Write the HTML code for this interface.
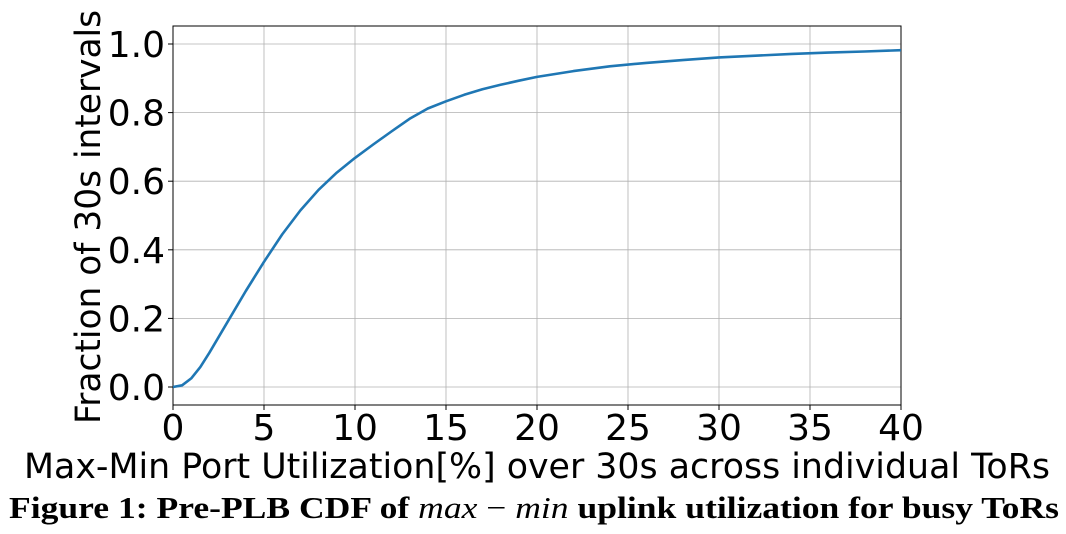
<!DOCTYPE html>
<html><head><meta charset="utf-8"><style>
body{margin:0;background:#fff;width:1066px;height:534px;overflow:hidden}
svg{display:block}
</style></head><body>
<svg id="chart" width="1066" height="534" xmlns="http://www.w3.org/2000/svg">
<g id="grid"></g>
<g id="axes"></g>
<g id="series"></g>
<text x="537" y="478" text-anchor="middle" font-family="'DejaVu Sans',sans-serif" font-size="34.5" textLength="1026" lengthAdjust="spacingAndGlyphs">Max-Min Port Utilization[%] over 30s across individual ToRs</text>
<text transform="translate(100,217) rotate(-90)" text-anchor="middle" font-family="'DejaVu Sans',sans-serif" font-size="34.5" textLength="414" lengthAdjust="spacingAndGlyphs">Fraction of 30s intervals</text>
<text x="534" y="518" text-anchor="middle" font-family="'Liberation Serif',serif" font-size="31" font-weight="bold" textLength="1050" lengthAdjust="spacingAndGlyphs">Figure 1: Pre-PLB CDF of <tspan font-style="italic" font-weight="normal">max</tspan> <tspan font-weight="normal">−</tspan> <tspan font-style="italic" font-weight="normal">min</tspan> uplink utilization for busy ToRs</text>
</svg>
<script>
const xTicks=[0,5,10,15,20,25,30,35,40];
const yTicks=[0.0,0.2,0.4,0.6,0.8,1.0];
const xVals=[0,0.5,1,1.5,2,3,4,5,6,7,8,9,10,11,12,13,14,15,16,17,18,19,20,22,24,26,28,30,32,34,36,38,40];
const yVals=[0,0.005,0.025,0.058,0.1,0.19,0.28,0.365,0.445,0.515,0.575,0.625,0.668,0.707,0.745,0.782,0.812,0.833,0.852,0.868,0.881,0.893,0.904,0.921,0.935,0.945,0.953,0.961,0.966,0.971,0.975,0.978,0.982];
const L=173,R=901,T=26,B=405;
const sx=v=>L+(v-0)/(40-0)*(R-L);
const sy=v=>387-v*343;
const NS='http://www.w3.org/2000/svg';
function mk(tag,attrs,parent){const e=document.createElementNS(NS,tag);for(const k in attrs)e.setAttribute(k,attrs[k]);parent.appendChild(e);return e;}
const grid=document.getElementById('grid'),axes=document.getElementById('axes'),series=document.getElementById('series');
xTicks.forEach(t=>{
 const g=mk('line',{x1:sx(t),x2:sx(t),y1:T,y2:B,stroke:'#b0b0b0','stroke-width':0.8},grid);
 
 
 const tk=mk('line',{x1:sx(t),x2:sx(t),y1:B,y2:B+5,stroke:'#000','stroke-width':1},axes);
 
 
 const tx=mk('text',{x:sx(t),y:440,'text-anchor':'middle','font-family':"'DejaVu Sans',sans-serif",'font-size':36},axes);
 tx.textContent=t;
 
 
});
yTicks.forEach(t=>{
 const g=mk('line',{x1:L,x2:R,y1:sy(t),y2:sy(t),stroke:'#b0b0b0','stroke-width':0.8},grid);
 
 
 const tk=mk('line',{x1:L-5,x2:L,y1:sy(t),y2:sy(t),stroke:'#000','stroke-width':1},axes);
 
 
 const tx=mk('text',{x:L-8,y:sy(t)+13,'text-anchor':'end','font-family':"'DejaVu Sans',sans-serif",'font-size':36},axes);
 tx.textContent=t.toFixed(1);
 
 
});
const fr=mk('rect',{x:L,y:T,width:R-L,height:B-T,fill:'none',stroke:'#000','stroke-width':1},axes);


const d=xVals.map((x,i)=>(i?'L':'M')+sx(x).toFixed(1)+' '+sy(yVals[i]).toFixed(1)).join(' ');
const p=mk('path',{d:d,fill:'none',stroke:'#1f77b4','stroke-width':2.6,'stroke-linejoin':'round'},series);


</script>
</body></html>
